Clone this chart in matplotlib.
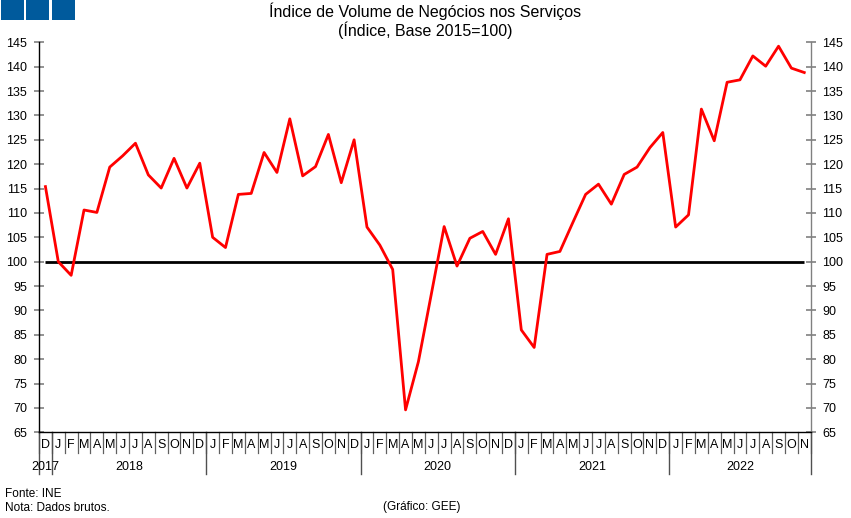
import matplotlib
matplotlib.use("Agg")
import matplotlib.pyplot as plt
from matplotlib.patches import Rectangle

plt.rcParams['font.family'] = ['Liberation Sans', 'DejaVu Sans']

months = ["D", "J", "F", "M", "A", "M", "J", "J", "A", "S", "O", "N",
          "D", "J", "F", "M", "A", "M", "J", "J", "A", "S", "O", "N",
          "D", "J", "F", "M", "A", "M", "J", "J", "A", "S", "O", "N",
          "D", "J", "F", "M", "A", "M", "J", "J", "A", "S", "O", "N",
          "D", "J", "F", "M", "A", "M", "J", "J", "A", "S", "O", "N"]
# year label and the index range (first, last) it spans
years = ["2017", "2018", "2019", "2020", "2021", "2022"]
year_start = [0, 1, 13, 25, 37, 49]
year_end = [0, 12, 24, 36, 48, 59]

values = [115.4, 100.0, 97.2, 110.6, 110.1, 119.4, 121.7, 124.3, 117.8, 115.1, 121.2, 115.1,
          120.2, 105.0, 102.9, 113.8, 114.0, 122.4, 118.3, 129.3, 117.6, 119.5, 126.1, 116.2,
          125.0, 107.1, 103.4, 98.4, 69.6, 79.5, 93.3, 107.2, 99.1, 104.8, 106.2, 101.5,
          108.8, 86.0, 82.4, 101.5, 102.1, 108.0, 113.8, 115.9, 111.8, 117.9, 119.4, 123.4,
          126.5, 107.1, 109.6, 131.3, 124.8, 136.8, 137.3, 142.2, 140.1, 144.2, 139.7, 138.8]
base_value = 100

title = "Índice de Volume de Negócios nos Serviços\n(Índice, Base 2015=100)"

W, H = 851, 518
fig = plt.figure(figsize=(W / 100, H / 100), dpi=100)
ax_left, ax_right, ax_top, ax_bot = 39, 810.7, 42.3, 432.3
ax = fig.add_axes([ax_left / W, 1 - ax_bot / H, (ax_right - ax_left) / W, (ax_bot - ax_top) / H])
axh = ax_bot - ax_top

n = len(values)
xs = list(range(n))
ax.plot(xs, [base_value] * n, color="black", lw=2.0, zorder=2, solid_capstyle="butt")
ax.plot(xs, values, color="#ff0000", lw=2.0, zorder=3)

ax.set_xlim(-0.5, n - 0.5)
ax.set_ylim(65, 145)
yt = list(range(65, 146, 5))
ax.set_yticks(yt)
ax.set_yticklabels([str(v) for v in yt])
ax.tick_params(axis="y", which="both", direction="inout", length=7, width=1.2,
               color="#808080", labelsize=9, pad=5, left=True, right=True,
               labelleft=True, labelright=True)
ax.set_xticks([])

ax.spines["top"].set_visible(False)
ax.spines["left"].set_color("black")
ax.spines["bottom"].set_color("black")
ax.spines["right"].set_color("#808080")
for s in ["left", "bottom", "right"]:
    ax.spines[s].set_linewidth(1.0)

tr = ax.get_xaxis_transform()
# month separators and labels
for i, m in enumerate(months):
    ax.text(i, -12.7 / axh, m, transform=tr, ha="center", va="center", fontsize=9)
for i in range(n + 1):
    ax.plot([i - 0.5, i - 0.5], [0, -21 / axh], transform=tr, color="#606060",
            lw=0.9, clip_on=False)
# year separators and labels
bounds = [year_start[0] - 0.5] + [e + 0.5 for e in year_end]
for b in bounds:
    ax.plot([b, b], [0, -42 / axh], transform=tr, color="#505050", lw=1.0, clip_on=False)
for y, s, e in zip(years, year_start, year_end):
    ax.text((s + e) / 2, -35 / axh, y, transform=tr, ha="center", va="center", fontsize=9)

# title
fig.text(425 / W, 1 - 21 / H, title, ha="center", va="center", fontsize=11.5,
         linespacing=1.1)

# blue squares
for x0 in [1, 26, 52]:
    fig.patches.append(Rectangle((x0 / W, 1 - 20 / H), 23 / W, 20 / H,
                                 transform=fig.transFigure, facecolor="#005a9c",
                                 edgecolor="none"))

fig.text(5 / W, 1 - 494 / H, "Fonte: INE", ha="left", va="center", fontsize=8.5)
fig.text(5 / W, 1 - 508 / H, "Nota: Dados brutos.", ha="left", va="center", fontsize=8.5)
fig.text(422 / W, 1 - 507 / H, "(Gráfico: GEE)", ha="center", va="center", fontsize=8.5)

fig.savefig("out.png", dpi=100)
